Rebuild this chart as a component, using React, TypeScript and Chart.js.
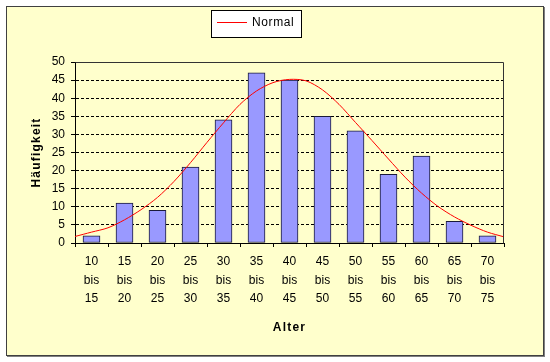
import React, { useEffect, useRef } from 'react';
import { Chart, registerables } from 'chart.js';

Chart.register(...registerables);

// ---- data ----
const lowerBounds = [10, 15, 20, 25, 30, 35, 40, 45, 50, 55, 60, 65, 70];
const upperBounds = [15, 20, 25, 30, 35, 40, 45, 50, 55, 60, 65, 70, 75];
const frequencies = [2, 11, 9, 21, 34, 47, 45, 35, 31, 19, 24, 6, 2];

const normalAges = [10, 12.5, 15, 17.5, 20, 22.5, 25, 27.5, 30, 32.5, 35, 37.5, 40, 42.5, 45, 47.5, 50, 52.5, 55, 57.5, 60, 62.5, 65, 67.5, 70, 72.5, 75];
const normalValues = [1.8, 3.0, 4.2, 6.4, 9.2, 12.6, 17.0, 22.2, 27.8, 33.2, 38.3, 42.0, 44.3, 45.2, 44.8, 42.3, 38.3, 33.3, 28.3, 23.2, 18.2, 13.8, 10.1, 7.2, 4.9, 3.0, 1.7];

const yMin = 0;
const yMax = 50;
const yStep = 5;

const seriesLabel = 'Normal';
const xTitle = 'Alter';
const yTitle = 'Häufigkeit';

const FONT = '"Liberation Sans", Arial, sans-serif';

const decorPlugin = {
  id: 'decor',
  afterDraw(chart: any) {
    const ctx = chart.ctx as CanvasRenderingContext2D;
    const a = chart.chartArea;
    ctx.save();
    // plot area border (top & right)
    ctx.strokeStyle = '#333';
    ctx.lineWidth = 1;
    ctx.beginPath();
    ctx.moveTo(Math.round(a.left) + 0.5, Math.round(a.top) + 0.5);
    ctx.lineTo(Math.round(a.right) - 0.5, Math.round(a.top) + 0.5);
    ctx.lineTo(Math.round(a.right) - 0.5, Math.round(a.bottom) + 0.5);
    ctx.stroke();

    // legend box
    ctx.fillStyle = '#ffffff';
    ctx.fillRect(211.5, 10.5, 90, 27);
    ctx.strokeStyle = '#000';
    ctx.strokeRect(211.5, 10.5, 90, 27);
    ctx.strokeStyle = '#FF0000';
    ctx.beginPath();
    ctx.moveTo(217, 22.5);
    ctx.lineTo(247, 22.5);
    ctx.stroke();
    ctx.fillStyle = '#000';
    ctx.font = `12px ${FONT}`;
    (ctx as any).letterSpacing = '0.6px';
    ctx.textAlign = 'left';
    ctx.textBaseline = 'alphabetic';
    ctx.fillText(seriesLabel, 252, 26);

    // axis titles
    ctx.font = `bold 12px ${FONT}`;
    (ctx as any).letterSpacing = '1.2px';
    ctx.textAlign = 'center';
    ctx.fillText(xTitle, (a.left + a.right) / 2, 330.5);
    ctx.save();
    ctx.translate(39.5, (a.top + a.bottom) / 2);
    ctx.rotate(-Math.PI / 2);
    ctx.fillText(yTitle, 0, 0);
    ctx.restore();
    (ctx as any).letterSpacing = '0px';
    ctx.restore();
  },
};

export default function App() {
  const canvasRef = useRef<HTMLCanvasElement | null>(null);

  useEffect(() => {
    if (!canvasRef.current) return;
    const labels = lowerBounds.map((l, i) => [String(l), 'bis', String(upperBounds[i])]);
    const normalPoints = normalAges.map((x, i) => ({ x, y: normalValues[i] }));

    const chart = new Chart(canvasRef.current, {
      type: 'bar',
      data: {
        labels,
        datasets: [
          {
            type: 'bar',
            label: 'Häufigkeit',
            data: frequencies,
            xAxisID: 'x',
            backgroundColor: '#9999FF',
            borderColor: '#1a1a3a',
            borderWidth: 1,
            borderSkipped: false,
            barThickness: 17,
            grouped: false,
            order: 2,
          } as any,
          {
            type: 'line',
            label: seriesLabel,
            data: normalPoints,
            xAxisID: 'xn',
            borderColor: '#FF0000',
            borderWidth: 1,
            pointRadius: 0,
            tension: 0.3,
            fill: false,
            order: 1,
          } as any,
        ],
      },
      options: {
        responsive: false,
        animation: false,
        devicePixelRatio: 1,
        layout: { padding: { left: 0, right: 46, top: 62, bottom: 0 } },
        plugins: {
          legend: { display: false },
          tooltip: { enabled: false },
          title: { display: false },
        },
        scales: {
          x: {
            type: 'category',
            offset: true,
            grid: {
              display: true,
              offset: true,
              drawOnChartArea: false,
              drawTicks: true,
              tickLength: 4,
              color: '#000',
              tickColor: '#000',
            },
            border: { display: true, color: '#000', width: 1 },
            ticks: {
              color: '#000',
              font: { family: FONT, size: 12, lineHeight: 1.57 },
              padding: 5,
              maxRotation: 0,
              minRotation: 0,
              autoSkip: false,
            },
            afterFit: (s: any) => {
              s.height = 119;
            },
          },
          xn: {
            type: 'linear',
            display: false,
            offset: false,
            grid: { offset: false },
            min: 10,
            max: 75,
            position: 'bottom',
          },
          y: {
            type: 'linear',
            min: yMin,
            max: yMax,
            ticks: {
              stepSize: yStep,
              color: '#000',
              font: { family: FONT, size: 12 },
              padding: 6,
            },
            grid: {
              color: (c: any) =>
                c.tick && (c.tick.value === yMin || c.tick.value === yMax) ? 'rgba(0,0,0,0)' : '#000',
              tickColor: '#000',
              tickLength: 4,
              tickBorderDash: [],
              lineWidth: 1,
            },
            border: { display: true, color: '#000', width: 1, dash: [3, 2] },
            afterFit: (s: any) => {
              s.width = 75;
            },
          },
        },
      } as any,
      plugins: [decorPlugin],
    });
    return () => chart.destroy();
  }, []);

  return (
    <div style={{ position: 'absolute', left: 0, top: 0, width: 550, height: 362, background: '#fff' }}>
      <div
        style={{
          position: 'absolute',
          left: 6,
          top: 6,
          width: 536,
          height: 348,
          background: '#FFFFCC',
          border: '1px solid #404040',
          boxShadow: '1px 1px 0 #808080',
        }}
      />
      <canvas
        ref={canvasRef}
        width={550}
        height={362}
        style={{ position: 'absolute', left: 0, top: 0, width: 550, height: 362 }}
      />
    </div>
  );
}
